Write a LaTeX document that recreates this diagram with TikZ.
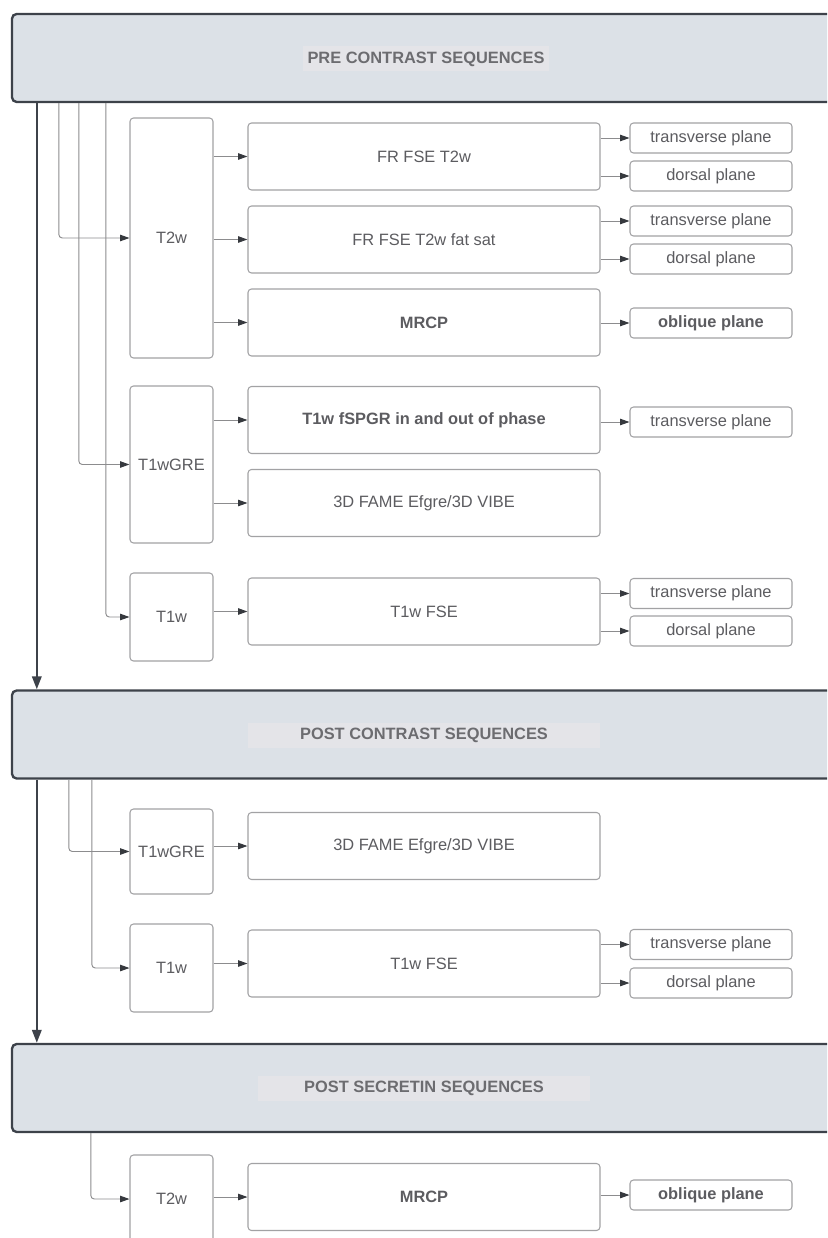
\documentclass[tikz,border=0pt]{standalone}
\usepackage{fontspec}
\setmainfont{Liberation Sans}
\usepackage{xcolor}
\usepackage{tikz}
\usetikzlibrary{arrows.meta,calc}
\definecolor{hdrfill}{HTML}{DCE1E7}
\definecolor{hdrline}{HTML}{3D424A}
\definecolor{hlfill}{HTML}{E4E4E8}
\definecolor{boxline}{HTML}{A2A2A4}
\definecolor{txtgray}{HTML}{5C5C60}
\definecolor{hdrtxt}{HTML}{6C6C70}
\definecolor{linegray}{HTML}{8C8C8E}
\definecolor{tipgray}{HTML}{36393E}

\begin{document}
\begin{tikzpicture}[
  x=0.03cm, y=-0.03cm,
  every node/.style={font=\fontsize{14}{16}\selectfont,text=txtgray},
  hdr/.style={rectangle,rounded corners=4pt,draw=hdrline,line width=2pt,fill=hdrfill,minimum width=25.44cm,minimum height=2.64cm},
  hltext/.style={fill=hlfill,font=\fontsize{14}{16}\selectfont\bfseries,text=hdrtxt,minimum height=0.75cm,inner sep=0pt},
  seqbox/.style={rectangle,rounded corners=3pt,draw=boxline,line width=0.9pt,fill=white,minimum width=2.49cm},
  protbox/.style={rectangle,rounded corners=3pt,draw=boxline,line width=0.9pt,fill=white,minimum width=10.56cm,minimum height=2.01cm},
  planebox/.style={rectangle,rounded corners=3pt,draw=boxline,line width=0.9pt,fill=white,minimum width=4.86cm,minimum height=0.9cm,inner sep=0pt},
  arr/.style={linegray,line width=0.8pt,-{Triangle[length=8pt,width=5.5pt,color=tipgray]}},
  feed/.style={linegray,line width=0.8pt,rounded corners=3pt,-{Triangle[length=8pt,width=5.5pt,color=tipgray]}},
  mainarr/.style={hdrline,line width=1.8pt,-{Triangle[length=11pt,width=8pt]}}
]
\useasboundingbox (0,0) rectangle (827,1238);
\clip (0,0) rectangle (827,1238);

\node[hdr] (pre) at (436,58) {};
\node[hltext,minimum width=7.38cm] (pretxt) at (426,59) {PRE CONTRAST SEQUENCES};
\node[hdr] (post) at (436,734.5) {};
\node[hltext,minimum width=10.56cm] (posttxt) at (424,735) {POST CONTRAST SEQUENCES};
\node[hdr] (secr) at (436,1088) {};
\node[hltext,minimum width=9.96cm] (secrtxt) at (424,1088.5) {POST SECRETIN SEQUENCES};

\node[seqbox,minimum height=7.2cm] (t2wA) at (171.5,238) {T2w};
\node[seqbox,minimum height=4.71cm] (greA) at (171.5,464.5) {T1wGRE};
\node[seqbox,minimum height=2.64cm] (t1wA) at (171.5,617) {T1w};
\node[seqbox,minimum height=2.55cm] (greB) at (171.5,851.5) {T1wGRE};
\node[seqbox,minimum height=2.64cm] (t1wB) at (171.5,968) {T1w};
\node[seqbox,minimum height=2.64cm] (t2wC) at (171.5,1199) {T2w};

\node[protbox] (frfse) at (424,156.5) {FR FSE T2w};
\node[protbox] (frfat) at (424,239.5) {FR FSE T2w fat sat};
\node[protbox,font=\fontsize{14}{16}\selectfont\bfseries] (mrcpA) at (424,322.5) {MRCP};
\node[protbox,font=\fontsize{14}{16}\selectfont\bfseries] (spgr) at (424,420) {T1w fSPGR in and out of phase};
\node[protbox] (fameA) at (424,503) {3D FAME Efgre/3D VIBE};
\node[protbox] (fseA) at (424,611.5) {T1w FSE};
\node[protbox] (fameB) at (424,846) {3D FAME Efgre/3D VIBE};
\node[protbox] (fseB) at (424,963.5) {T1w FSE};
\node[protbox,font=\fontsize{14}{16}\selectfont\bfseries] (mrcpC) at (424,1197) {MRCP};

\node[planebox] (trA1) at (711,138) {transverse plane};
\node[planebox] (doA1) at (711,176) {dorsal plane};
\node[planebox] (trA2) at (711,221) {transverse plane};
\node[planebox] (doA2) at (711,259) {dorsal plane};
\node[planebox,font=\fontsize{14}{16}\selectfont\bfseries] (obA) at (711,323) {oblique plane};
\node[planebox] (trA3) at (711,422) {transverse plane};
\node[planebox] (trA4) at (711,593.5) {transverse plane};
\node[planebox] (doA4) at (711,631) {dorsal plane};
\node[planebox] (trB) at (711,944.5) {transverse plane};
\node[planebox] (doB) at (711,983) {dorsal plane};
\node[planebox,font=\fontsize{14}{16}\selectfont\bfseries] (obC) at (711,1195) {oblique plane};

\draw[mainarr] ($(pre.south west)+(26,0)$) -- ($(post.north west)+(26,0)$);
\draw[mainarr] ($(post.south west)+(26,0)$) -- ($(secr.north west)+(26,0)$);

\draw[feed] ($(pre.south west)+(48,0)$) |- (t2wA.west);
\draw[feed] ($(pre.south west)+(68,0)$) |- (greA.west);
\draw[feed] ($(pre.south west)+(95,0)$) |- (t1wA.west);
\draw[feed] ($(post.south west)+(58,0)$) |- (greB.west);
\draw[feed] ($(post.south west)+(81,0)$) |- (t1wB.west);
\draw[feed] ($(secr.south west)+(80,0)$) |- (t2wC.west);

\draw[arr] (t2wA.east |- frfse.west) -- (frfse.west);
\draw[arr] (t2wA.east |- frfat.west) -- (frfat.west);
\draw[arr] (t2wA.east |- mrcpA.west) -- (mrcpA.west);
\draw[arr] (greA.east |- spgr.west) -- (spgr.west);
\draw[arr] (greA.east |- fameA.west) -- (fameA.west);
\draw[arr] (t1wA.east |- fseA.west) -- (fseA.west);
\draw[arr] (greB.east |- fameB.west) -- (fameB.west);
\draw[arr] (t1wB.east |- fseB.west) -- (fseB.west);
\draw[arr] (t2wC.east |- mrcpC.west) -- (mrcpC.west);

\draw[arr] (frfse.east |- trA1.west) -- (trA1.west);
\draw[arr] (frfse.east |- doA1.west) -- (doA1.west);
\draw[arr] (frfat.east |- trA2.west) -- (trA2.west);
\draw[arr] (frfat.east |- doA2.west) -- (doA2.west);
\draw[arr] (mrcpA.east |- obA.west) -- (obA.west);
\draw[arr] (spgr.east |- trA3.west) -- (trA3.west);
\draw[arr] (fseA.east |- trA4.west) -- (trA4.west);
\draw[arr] (fseA.east |- doA4.west) -- (doA4.west);
\draw[arr] (fseB.east |- trB.west) -- (trB.west);
\draw[arr] (fseB.east |- doB.west) -- (doB.west);
\draw[arr] (mrcpC.east |- obC.west) -- (obC.west);
\end{tikzpicture}
\end{document}
